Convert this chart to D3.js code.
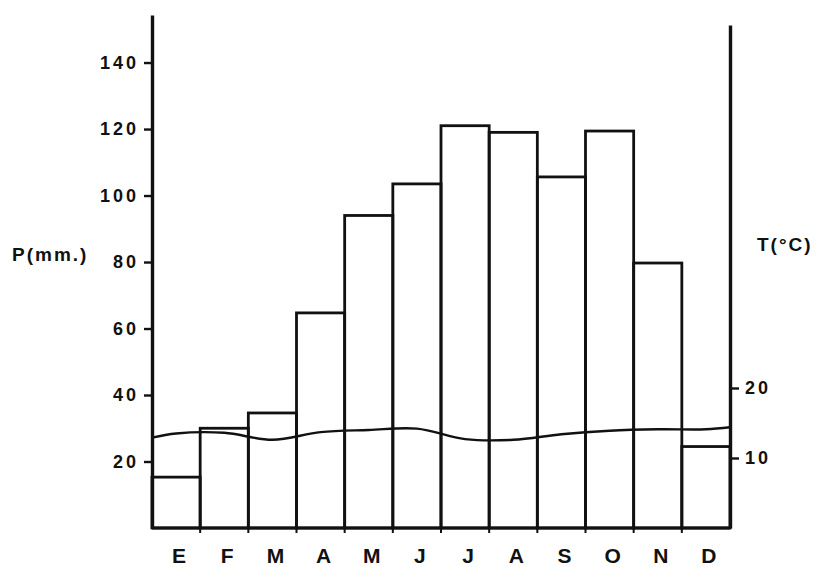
<!DOCTYPE html>
<html>
<head>
<meta charset="utf-8">
<script src="https://cdn.jsdelivr.net/npm/d3@7"></script>
<style>
  html, body { margin: 0; padding: 0; background: #fff; }
  svg text { font-family: "Liberation Sans", Arial, sans-serif; font-weight: bold; fill: #111; }
</style>
</head>
<body>
<svg id="chart" width="830" height="567"></svg>
<script>
// Climograph: monthly precipitation (bars) and mean temperature (line)
const months = ["E", "F", "M", "A", "M", "J", "J", "A", "S", "O", "N", "D"];
const precipitation = [15.3, 30, 34.6, 64.7, 94, 103.5, 121, 119, 105.6, 119.4, 79.7, 24.5];
const temperature = [13.5, 13.6, 12.6, 13.7, 14.0, 14.2, 12.7, 12.6, 13.4, 13.9, 14.1, 14.1];
// temperature where the curve meets the left and right axes
const temperatureEdges = [12.9, 14.4];
const precipTicks = [20, 40, 60, 80, 100, 120, 140];
const tempTicks = [10, 20];

const svg = d3.select("#chart");
const left = 152, right = 730, bottom = 528, topP = 15, topT = 25;

const x = d3.scaleBand().domain(d3.range(months.length)).range([left, right]).paddingInner(0).paddingOuter(0);
const yP = d3.scaleLinear().domain([0, 154.3]).range([bottom, topP]);
const yT = d3.scaleLinear().domain([0, (bottom - topT) / 7]).range([bottom, topT]);

// precipitation bars (outlined)
svg.append("g")
  .selectAll("rect")
  .data(precipitation)
  .join("rect")
  .attr("x", (d, i) => x(i))
  .attr("y", d => yP(d))
  .attr("width", x.bandwidth())
  .attr("height", d => bottom - yP(d))
  .attr("fill", "none")
  .attr("stroke", "#111")
  .attr("stroke-width", 2.8);

// small ticks below the baseline at each month boundary
svg.append("g")
  .selectAll("line")
  .data(d3.range(1, months.length))
  .join("line")
  .attr("x1", i => x(i)).attr("x2", i => x(i))
  .attr("y1", bottom).attr("y2", bottom + 5)
  .attr("stroke", "#111").attr("stroke-width", 2);

// temperature curve
const tempPoints = [[left, temperatureEdges[0]]]
  .concat(temperature.map((t, i) => [x(i) + x.bandwidth() / 2, t]))
  .concat([[right, temperatureEdges[1]]]);
svg.append("path")
  .datum(tempPoints)
  .attr("fill", "none")
  .attr("stroke", "#111")
  .attr("stroke-width", 2.4)
  .attr("d", d3.line().x(d => d[0]).y(d => yT(d[1])).curve(d3.curveCatmullRom.alpha(0.5)));

// baseline
svg.append("line")
  .attr("x1", left).attr("x2", right)
  .attr("y1", bottom).attr("y2", bottom)
  .attr("stroke", "#111").attr("stroke-width", 3.2);

// left axis: precipitation
const axisP = svg.append("g")
  .attr("transform", `translate(${left},0)`)
  .call(d3.axisLeft(yP).tickValues(precipTicks).tickSize(8).tickSizeOuter(0).tickPadding(5));
axisP.select(".domain").attr("stroke", "#111").attr("stroke-width", 3.4);
axisP.selectAll(".tick line").attr("stroke", "#111").attr("stroke-width", 2.4);
axisP.selectAll(".tick text")
  .attr("font-size", 18)
  .style("letter-spacing", "3px")
  .attr("fill", "#111");

// right axis: temperature
const axisT = svg.append("g")
  .attr("transform", `translate(${right},0)`)
  .call(d3.axisRight(yT).tickValues(tempTicks).tickSize(9).tickSizeOuter(0).tickPadding(6));
axisT.select(".domain").attr("stroke", "#111").attr("stroke-width", 3.4);
axisT.selectAll(".tick line").attr("stroke", "#111").attr("stroke-width", 2.4);
axisT.selectAll(".tick text")
  .attr("font-size", 18)
  .style("letter-spacing", "3px")
  .attr("fill", "#111");

// month labels
const axisM = svg.append("g")
  .attr("transform", `translate(3,${bottom})`)
  .call(d3.axisBottom(x).tickFormat(i => months[i]).tickSize(0).tickPadding(20));
axisM.select(".domain").remove();
axisM.selectAll(".tick text")
  .attr("font-size", 21)
  .attr("fill", "#111");

// axis titles
svg.append("text")
  .attr("x", 12).attr("y", 261)
  .attr("font-size", 19)
  .style("letter-spacing", "2px")
  .text("P(mm.)");
svg.append("text")
  .attr("x", 757).attr("y", 251)
  .attr("font-size", 19)
  .style("letter-spacing", "2px")
  .text("T(°C)");
</script>
</body>
</html>
